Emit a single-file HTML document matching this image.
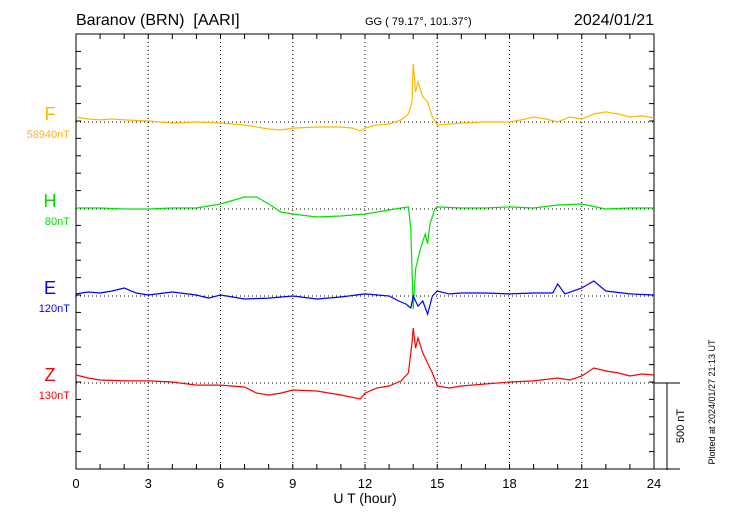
<!DOCTYPE html>
<html><head><meta charset="utf-8"><style>
body{margin:0;background:#fff}
svg{display:block;font-family:"Liberation Sans",sans-serif}
</style></head><body>
<svg id="chart" width="730" height="520" viewBox="0 0 730 520" xmlns="http://www.w3.org/2000/svg">
<text x="76" y="25" font-size="16" style="white-space:pre">Baranov (BRN)  [AARI]</text>
<text x="365" y="25" font-size="11">GG ( 79.17°, 101.37°)</text>
<text x="654" y="25" font-size="16" text-anchor="end">2024/01/21</text>
<text x="365" y="503" font-size="14" text-anchor="middle">U T (hour)</text>
<text transform="translate(684,426) rotate(-90)" font-size="11" text-anchor="middle">500 nT</text>
<text transform="translate(715,402) rotate(-90)" font-size="9" text-anchor="middle">Plotted at 2024/01/27 21:13 UT</text>
<g id="axes"></g><g id="series"></g>
</svg>
<script>
const tickHours=[0,3,6,9,12,15,18,21,24];
const compNames=["F","H","E","Z"];
const compColors=["#ffb800","#00e000","#0000ff","#ff0000"];
const compScales=["58940nT","80nT","120nT","130nT"];
const timesF=[0,0.5,1,1.5,2,3,3.5,4,5,6,7,8,8.5,9,10,11,11.5,11.8,12,12.5,13,13.5,13.8,13.95,14.0,14.1,14.2,14.4,14.6,14.8,15,15.5,16,17,18,18.5,19,19.5,20,20.5,21,21.5,22,22.5,23,23.5,24];
const valuesF=[29,17,12,17,12,6,0,-6,0,-6,-17,-40,-46,-35,-29,-29,-35,-52,-35,-17,-12,12,46,115,334,173,230,144,115,29,-17,-12,-6,0,0,12,29,17,0,29,17,46,58,46,29,35,23];
const timesH=[0,1,2,3,4,5,6,7,7.5,8,8.5,9,10,11,12,13,13.5,13.8,13.9,14.0,14.1,14.3,14.5,14.6,14.7,14.9,15,16,17,18,19,20,21,22,23,24];
const valuesH=[6,6,0,0,6,6,29,69,69,29,-17,-29,-46,-40,-29,-6,6,12,-115,-575,-345,-230,-144,-201,-86,0,12,6,6,12,6,23,29,0,6,6];
const timesE=[0,0.5,1,1.5,2,2.5,3,4,5,5.5,6,7,8,9,10,11,12,13,13.4,13.7,13.9,14.0,14.2,14.4,14.6,14.8,15,15.5,16,17,18,19,19.8,20,20.3,21,21.5,22,23,24];
const valuesE=[12,23,17,29,46,17,6,23,6,-12,6,-17,-12,0,-17,-6,12,0,-29,-46,-69,0,-58,-29,-104,0,29,12,17,17,12,17,17,69,12,46,86,29,12,6];
const timesZ=[0,0.5,1,2,3,4,5,6,7,7.5,8,8.5,9,10,11,11.8,12,12.5,13,13.5,13.8,13.95,14.0,14.1,14.2,14.4,14.6,14.8,15,15.5,16,17,18,19,20,20.5,21,21.5,22,22.5,23,23.5,24];
const valuesZ=[46,29,17,12,12,6,-12,-12,-23,-58,-69,-58,-40,-46,-69,-92,-58,-29,-17,12,58,230,316,201,259,173,115,58,-17,-29,-17,-6,6,12,29,17,40,86,69,58,40,52,46];

const X0=76,X1=654,Y0=34,Y1=469,baselines=[122,209,296,383],pxPerNT=87/500;
const NS="http://www.w3.org/2000/svg";
const xs=h=>X0+(X1-X0)*h/24;
const ys=(i,v)=>baselines[i]-v*pxPerNT;
function mk(tag,attrs,parent){const e=document.createElementNS(NS,tag);for(const k in attrs)e.setAttribute(k,attrs[k]);parent.appendChild(e);return e;}
const ax=document.getElementById('axes'),sg=document.getElementById('series');
tickHours.forEach(h=>{
  if(h>0&&h<24){const g=mk('line',{x1:xs(h),x2:xs(h),y1:Y0,y2:Y1,stroke:'#000','stroke-dasharray':'1,3','stroke-width':1},ax);
  
  }
  const t=mk('text',{x:xs(h),y:488,'font-size':13,'text-anchor':'middle'},ax);t.textContent=h;
  
  
});
for(let h=1;h<24;h++){mk('line',{x1:xs(h),x2:xs(h),y1:Y0,y2:Y0+5,stroke:'#000'},ax);mk('line',{x1:xs(h),x2:xs(h),y1:Y1,y2:Y1-5,stroke:'#000'},ax);}
for(let k=1;k<25;k++){const y=Y1-k*100*pxPerNT;if(y<Y0+2)break;mk('line',{x1:X0,x2:X0+5,y1:y,y2:y,stroke:'#000'},ax);mk('line',{x1:X1,x2:X1-5,y1:y,y2:y,stroke:'#000'},ax);}
const fr=mk('rect',{x:X0,y:Y0,width:X1-X0,height:Y1-Y0,fill:'none',stroke:'#000'},ax);


mk('line',{x1:X1,x2:680,y1:Y1,y2:Y1,stroke:'#000'},ax);
mk('line',{x1:X1,x2:680,y1:baselines[3],y2:baselines[3],stroke:'#000'},ax);
const sb=mk('line',{x1:667,x2:667,y1:baselines[3],y2:baselines[3]+500*pxPerNT,stroke:'#000'},ax);


const T=[timesF,timesH,timesE,timesZ],V=[valuesF,valuesH,valuesE,valuesZ];
compNames.forEach((n,i)=>{
  const b=mk('line',{x1:X0,x2:X1,y1:baselines[i],y2:baselines[i],stroke:'#000','stroke-dasharray':'1,3'},ax);
  
  
  const l=mk('text',{x:50,y:baselines[i]-2,'font-size':18,fill:compColors[i],'text-anchor':'middle'},ax);l.textContent=n;
  
  
  const s=mk('text',{x:70,y:baselines[i]+16,'font-size':11,fill:compColors[i],'text-anchor':'end'},ax);s.textContent=compScales[i];
  
  
  const d=T[i].map((t,j)=>(j?'L':'M')+xs(t).toFixed(1)+','+ys(i,V[i][j]).toFixed(1)).join('');
  const p=mk('path',{d:d,fill:'none',stroke:compColors[i],'stroke-width':1.2},sg);
  
  
});
</script>
</body></html>
